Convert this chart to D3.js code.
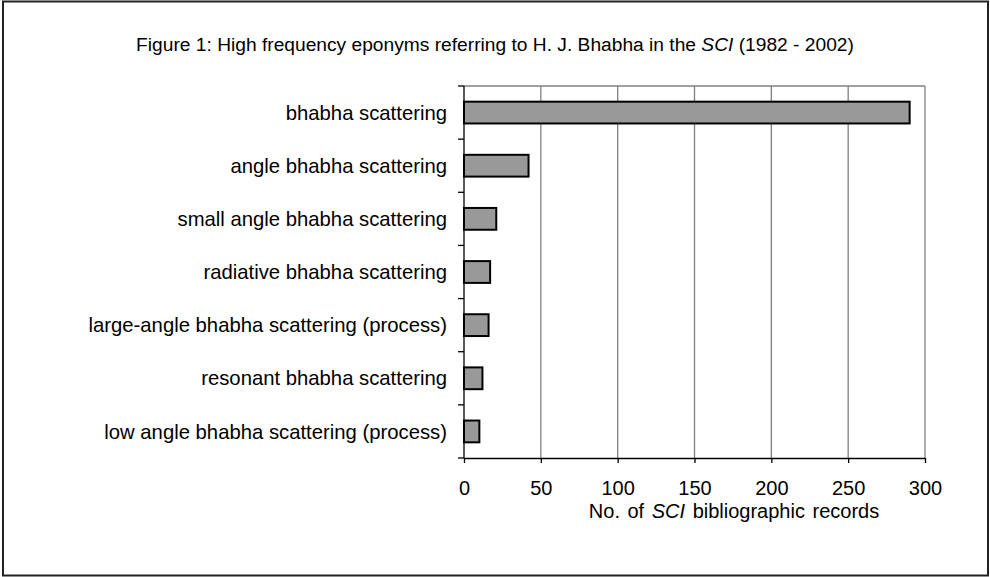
<!DOCTYPE html>
<html>
<head>
<meta charset="utf-8">
<script src="https://cdn.jsdelivr.net/npm/d3@7"></script>
<style>
  body { margin: 0; background: #fff; }
  svg { display: block; font-family: 'Liberation Sans', Arial, sans-serif; }
</style>
</head>
<body>
<svg></svg>
<script>

// data

const categories = [
  'bhabha scattering',
  'angle bhabha scattering',
  'small angle bhabha scattering',
  'radiative bhabha scattering',
  'large-angle bhabha scattering (process)',
  'resonant bhabha scattering',
  'low angle bhabha scattering (process)'
];

const records = [290, 42, 21, 17, 16, 12, 10];

const xTicks = [0, 50, 100, 150, 200, 250, 300];

const data = categories.map((name, i) => ({ name, value: records[i] }));


// root svg

const W = 990, H = 577;

const svg = d3.select('svg')
  .attr('width', W)
  .attr('height', H);

// outer frame
svg.append('rect')
  .attr('x', 3)
  .attr('y', 1.5)
  .attr('width', W - 5)
  .attr('height', H - 3)
  .style('fill', '#fff')
  .style('stroke', '#222')
  .style('stroke-width', 2);


// title

const title = svg.append('text')
  .attr('x', 495)
  .attr('y', 51)
  .attr('text-anchor', 'middle')
  .style('font-size', '19.2px')
  .style('fill', '#000');

title.append('tspan').text('Figure 1: High frequency eponyms referring to H. J. Bhabha in the ');
title.append('tspan').text('SCI').style('font-style', 'italic');
title.append('tspan').text(' (1982 - 2002)');


// plot area

const plot = { left: 464, right: 925, top: 86, bottom: 458 };

const xScale = d3.scaleLinear()
  .domain([0, 300])
  .range([plot.left, plot.right]);

const yScale = d3.scaleBand()
  .domain(categories)
  .range([plot.top, plot.bottom]);

// gridlines
svg.append('g')
  .selectAll('line')
  .data(xTicks.slice(1))
  .enter()
    .append('line')
    .attr('x1', d => xScale(d))
    .attr('x2', d => xScale(d))
    .attr('y1', plot.top)
    .attr('y2', plot.bottom)
    .style('stroke', '#808080')
    .style('stroke-width', 1.3);

// top border of plot area
svg.append('line')
  .attr('x1', plot.left)
  .attr('x2', plot.right)
  .attr('y1', plot.top)
  .attr('y2', plot.top)
  .style('stroke', '#808080')
  .style('stroke-width', 1.3);


// bars

const barH = yScale.step() * 0.41;

svg.append('g')
  .selectAll('rect')
  .data(data)
  .enter()
    .append('rect')
    .attr('x', xScale(0))
    .attr('y', d => yScale(d.name) + (yScale.step() - barH) / 2)
    .attr('width', d => xScale(d.value) - xScale(0))
    .attr('height', barH)
    .style('fill', '#999999')
    .style('stroke', '#000')
    .style('stroke-width', 2);


// y-axis

const yAxisG = svg.append('g')
  .attr('transform', `translate(${plot.left},0)`);

yAxisG.append('line')
  .attr('y1', plot.top)
  .attr('y2', plot.bottom)
  .style('stroke', '#000')
  .style('stroke-width', 1.3);

yAxisG.selectAll('line.tick')
  .data(d3.range(categories.length + 1))
  .enter()
    .append('line')
    .attr('class', 'tick')
    .attr('x1', -6)
    .attr('x2', 0)
    .attr('y1', i => plot.top + i * yScale.step())
    .attr('y2', i => plot.top + i * yScale.step())
    .style('stroke', '#000')
    .style('stroke-width', 1.3);

yAxisG.selectAll('text')
  .data(categories)
  .enter()
    .append('text')
    .attr('x', -17)
    .attr('y', d => yScale(d) + yScale.step() / 2)
    .attr('dy', '0.35em')
    .attr('text-anchor', 'end')
    .style('font-size', '20.3px')
    .style('fill', '#000')
    .text(d => d);


// x-axis

const xAxis = d3.axisBottom(xScale)
  .tickValues(xTicks)
  .tickSize(5)
  .tickSizeOuter(0)
  .tickPadding(18);

const xAxisG = svg.append('g')
  .attr('transform', `translate(0,${plot.bottom})`)
  .call(xAxis);

xAxisG.select('.domain')
  .style('stroke', '#000')
  .style('stroke-width', 1.3);

xAxisG.selectAll('.tick line')
  .style('stroke', '#000')
  .style('stroke-width', 1.3);

xAxisG.selectAll('.tick text')
  .style('font-family', "'Liberation Sans', Arial, sans-serif")
  .style('font-size', '20px')
  .style('fill', '#000');

const xTitle = svg.append('text')
  .attr('x', 734)
  .attr('y', 518)
  .attr('text-anchor', 'middle')
  .style('font-size', '20px')
  .style('word-spacing', '2px')
  .style('fill', '#000');

xTitle.append('tspan').text('No. of ');
xTitle.append('tspan').text('SCI').style('font-style', 'italic');
xTitle.append('tspan').text(' bibliographic records');

</script>
</body>
</html>
